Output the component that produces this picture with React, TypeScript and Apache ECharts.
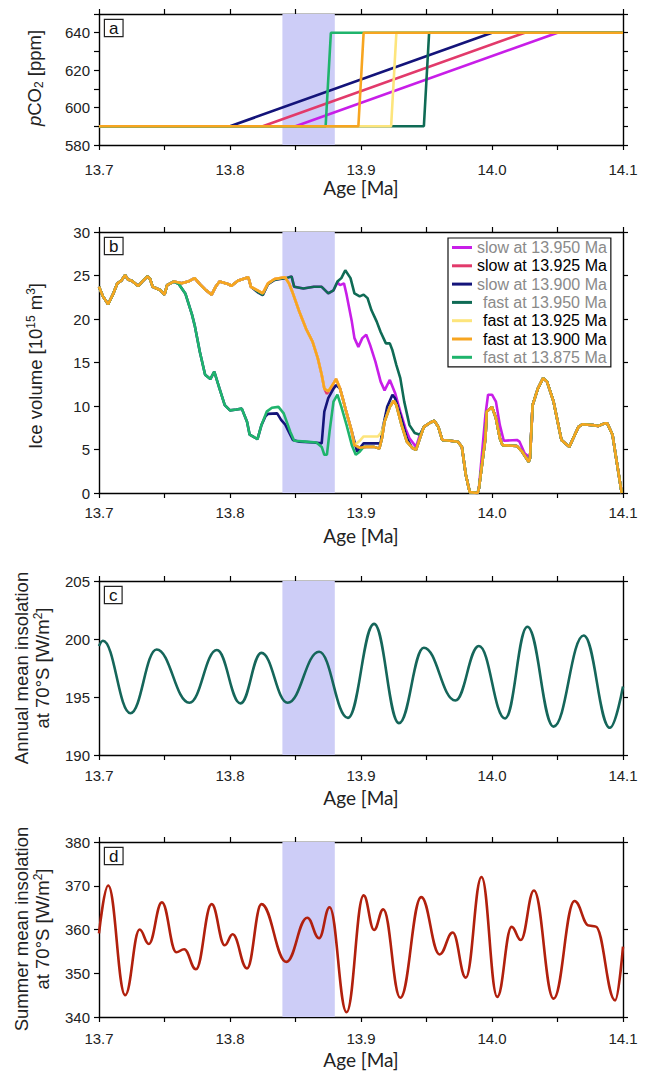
import React, { useEffect, useRef } from "react";
import * as echarts from "echarts";

// ---------- data ----------
const X_MIN = 13.7;
const X_MAX = 14.1;
const SHADE = [13.84, 13.88];

const SERIES_NAMES = [
  "slow at 13.950 Ma",
  "slow at 13.925 Ma",
  "slow at 13.900 Ma",
  "fast at 13.950 Ma",
  "fast at 13.925 Ma",
  "fast at 13.900 Ma",
  "fast at 13.875 Ma",
];
const SERIES_COLORS = ["#c81ee8", "#e23a6b", "#14147a", "#0f6b55", "#fde57c", "#f7a520", "#1fb46c"];
const LEGEND_TEXT_COLORS = ["#8a8a8a", "#000", "#8a8a8a", "#8a8a8a", "#000", "#000", "#8a8a8a"];

// panel a: pCO2 scenarios
const co2Slow950 = [[13.7, 590], [13.85, 590], [14.05, 640], [14.1, 640]];
const co2Slow925 = [[13.7, 590], [13.825, 590], [14.025, 640], [14.1, 640]];
const co2Slow900 = [[13.7, 590], [13.8, 590], [14.0, 640], [14.1, 640]];
const co2Fast950 = [[13.7, 590], [13.948, 590], [13.952, 640], [14.1, 640]];
const co2Fast925 = [[13.7, 590], [13.923, 590], [13.927, 640], [14.1, 640]];
const co2Fast900 = [[13.7, 590], [13.898, 590], [13.902, 640], [14.1, 640]];
const co2Fast875 = [[13.7, 590], [13.873, 590], [13.877, 640], [14.1, 640]];

// panel b: ice volume, base curve (fast at 13.900 Ma)
const iceFast900 = [
  [13.7, 23.7], [13.703, 22.6], [13.707, 21.7], [13.711, 22.95], [13.714, 24.1], [13.717, 24.4],
  [13.72, 25.05], [13.722, 24.55], [13.725, 24.4], [13.73, 23.8], [13.733, 24.3], [13.737, 24.9],
  [13.739, 24.6], [13.741, 23.7], [13.747, 23.3], [13.75, 22.8], [13.752, 23.9], [13.757, 24.3],
  [13.763, 24.1], [13.768, 24.3], [13.773, 24.7], [13.777, 24.0], [13.781, 23.4], [13.786, 22.8],
  [13.789, 23.7], [13.792, 24.3], [13.799, 24.0], [13.801, 23.8], [13.806, 24.4], [13.814, 24.8],
  [13.816, 23.7], [13.821, 23.3], [13.825, 22.95], [13.829, 24.1], [13.834, 24.6], [13.842, 24.8],
  [13.845, 24.1], [13.848, 22.95], [13.853, 20.8], [13.858, 18.9], [13.863, 17.4], [13.867, 15.5],
  [13.87, 13.6], [13.872, 12.0], [13.875, 11.7], [13.879, 12.6], [13.881, 13.1], [13.884, 12.0],
  [13.886, 10.9], [13.889, 9.2], [13.893, 7.05], [13.895, 5.5], [13.899, 5.2], [13.904, 5.3],
  [13.91, 5.3], [13.914, 5.1], [13.916, 6.3], [13.918, 8.2], [13.922, 9.9], [13.925, 10.6],
  [13.927, 10.1], [13.931, 7.8], [13.935, 5.9], [13.939, 5.2], [13.942, 4.95], [13.945, 6.3],
  [13.948, 7.6], [13.953, 8.1], [13.956, 8.3], [13.959, 7.6], [13.962, 6.1], [13.968, 6.0],
  [13.974, 5.9], [13.977, 5.3], [13.98, 2.1], [13.983, 0.1], [13.989, 0], [13.99, 0.5],
  [13.995, 6.3], [13.996, 9.35], [14.0, 9.9], [14.003, 8.6], [14.006, 6.3], [14.008, 5.5],
  [14.019, 5.4], [14.023, 4.75], [14.028, 3.6], [14.029, 4.0], [14.031, 10.1], [14.035, 12.0],
  [14.039, 13.2], [14.042, 12.8], [14.047, 10.5], [14.053, 6.1], [14.059, 5.3], [14.062, 6.3],
  [14.066, 7.6], [14.069, 7.9], [14.077, 7.8], [14.081, 7.7], [14.086, 8.0], [14.088, 8.0],
  [14.092, 6.7], [14.094, 4.75], [14.099, 0],
];
// segments where other scenarios depart from the base curve
const fast875Seg = [
  [13.761, 24.0], [13.766, 22.9], [13.771, 20.5], [13.773, 19.3], [13.777, 16.2], [13.781, 13.6],
  [13.785, 13.1], [13.788, 13.95], [13.792, 12.0], [13.796, 10.1], [13.8, 9.5], [13.805, 9.6],
  [13.809, 9.7], [13.813, 8.2], [13.815, 6.7], [13.821, 6.2], [13.824, 7.8], [13.828, 9.35],
  [13.832, 9.8], [13.837, 9.9], [13.841, 9.15], [13.846, 7.05], [13.849, 6.0], [13.858, 5.9],
  [13.866, 5.8], [13.87, 5.3], [13.872, 4.4], [13.874, 4.4], [13.876, 7.05], [13.879, 10.5],
  [13.882, 11.3], [13.885, 9.9], [13.889, 7.8], [13.893, 5.5], [13.896, 4.4], [13.899, 4.75],
  [13.902, 5.3],
];
const slow900Seg = [
  [13.827, 8.8], [13.829, 9.1], [13.836, 9.15], [13.839, 8.4], [13.842, 7.9], [13.845, 7.0],
  [13.848, 6.1], [13.853, 5.9], [13.864, 5.8], [13.87, 5.7], [13.872, 9.35], [13.875, 10.9],
  [13.879, 12.0], [13.881, 12.4], [13.884, 12.0], [13.886, 10.9], [13.889, 9.2], [13.893, 7.05],
  [13.897, 4.75], [13.902, 5.7], [13.915, 5.7], [13.916, 7.05], [13.92, 9.9], [13.924, 11.3],
  [13.926, 10.9], [13.93, 9.0], [13.935, 6.3], [13.939, 5.2],
];
const fast950Seg = [
  [13.821, 23.1], [13.825, 22.75], [13.829, 24.0], [13.834, 24.5], [13.838, 24.6], [13.843, 24.7],
  [13.847, 24.9], [13.849, 23.7], [13.856, 23.5], [13.864, 23.7], [13.87, 23.7], [13.875, 22.95],
  [13.879, 23.3], [13.882, 24.3], [13.885, 24.7], [13.888, 25.6], [13.892, 24.7], [13.895, 22.95],
  [13.899, 22.6], [13.902, 22.8], [13.905, 22.4], [13.908, 21.0], [13.912, 19.7], [13.915, 18.5],
  [13.919, 17.2], [13.922, 17.2], [13.924, 16.4], [13.927, 14.7], [13.93, 13.2], [13.933, 10.5],
  [13.937, 7.8], [13.941, 6.9], [13.945, 6.7],
];
const slow950Seg1 = [
  [13.882, 24.2], [13.884, 23.9], [13.887, 24.1], [13.889, 22.8], [13.893, 19.7], [13.895, 17.8],
  [13.898, 16.8], [13.901, 17.8], [13.904, 18.2], [13.907, 17.0], [13.911, 15.1], [13.915, 12.8],
  [13.918, 11.8], [13.922, 13.0], [13.926, 11.5], [13.93, 9.35], [13.934, 7.4], [13.937, 6.3],
  [13.942, 5.3],
];
const slow950Seg2 = [
  [13.995, 9.0], [13.997, 11.3], [14.0, 11.3], [14.003, 10.5], [14.006, 7.8], [14.009, 6.0],
  [14.019, 6.1], [14.021, 5.9], [14.025, 4.55], [14.028, 4.2],
];
const fast925Seg = [[13.899, 6.0], [13.902, 6.5], [13.913, 6.5], [13.916, 7.05]];
const slow925Seg = [[13.872, 12.0], [13.874, 11.4], [13.877, 12.0]];

// panel c: annual mean insolation at 70°S (peaks and troughs)
const annualInsolation = [
  [13.7, 199.4], [13.703, 199.85], [13.724, 193.6], [13.744, 199.1], [13.769, 194.5], [13.79, 199.05],
  [13.808, 194.45], [13.824, 198.8], [13.844, 194.5], [13.868, 198.9], [13.89, 193.2], [13.91, 201.3],
  [13.929, 192.75], [13.948, 199.25], [13.972, 194.7], [13.99, 199.4], [14.01, 193.15], [14.027, 201.05],
  [14.047, 192.45], [14.07, 200.3], [14.09, 192.35], [14.1, 195.9],
];
// panel d: summer mean insolation at 70°S
const summerInsolation = [
  [13.7, 359.1], [13.707, 370.05], [13.72, 345.0], [13.731, 360.0], [13.738, 356.7], [13.748, 366.2],
  [13.759, 354.8], [13.765, 355.5], [13.774, 350.9], [13.786, 365.8], [13.796, 356.4], [13.802, 358.9],
  [13.813, 351.1], [13.824, 365.8], [13.843, 352.6], [13.859, 362.7], [13.868, 358.0], [13.876, 365.1],
  [13.889, 341.1], [13.902, 367.8], [13.91, 359.9], [13.917, 364.6], [13.93, 344.4], [13.946, 367.4],
  [13.96, 354.3], [13.97, 359.3], [13.98, 349.0], [13.992, 372.0], [14.004, 344.6], [14.015, 360.6],
  [14.022, 357.6], [14.032, 368.9], [14.047, 344.2], [14.063, 366.5], [14.074, 360.9], [14.079, 360.7],
  [14.094, 343.8], [14.1, 356.1],
];

// ---------- helpers ----------
function merge(base: number[][], seg: number[][]) {
  const a = seg[0][0];
  const b = seg[seg.length - 1][0];
  return base.filter((p) => p[0] < a || p[0] > b).concat(seg).sort((p, q) => p[0] - q[0]);
}

const iceFast875 = merge(iceFast900, fast875Seg);
const iceSlow900 = merge(iceFast875, slow900Seg);
const iceFast950 = merge(iceFast900, fast950Seg);
const iceSlow950 = merge(merge(iceFast950, slow950Seg1), slow950Seg2);
const iceFast925 = merge(iceFast900, fast925Seg);
const iceSlow925 = merge(iceFast900, slow925Seg);

const FONT = "Liberation Sans, Arial, sans-serif";
const TITLE_FONT = "Lato, Liberation Sans, sans-serif";

const GRIDS = [
  { top: 14, height: 131, labelMargin: 17 },
  { top: 232, height: 261, labelMargin: 12 },
  { top: 581, height: 174, labelMargin: 13 },
  { top: 842, height: 175, labelMargin: 14 },
];
const LEFT = 99;
const RIGHT_PX = 623;

function xAxesFor(gridIndex: number) {
  const common: any = {
    type: "value",
    gridIndex,
    min: X_MIN,
    max: X_MAX,
    interval: 0.05,
    splitLine: { show: false },
    axisLine: { show: true, onZero: false, lineStyle: { color: "#000", width: 1.4 } },
    axisTick: { show: true, inside: false, length: 5, lineStyle: { color: "#000", width: 1.2 } },
  };
  return [
    {
      ...common,
      position: "bottom",
      axisLabel: {
        show: true,
        margin: GRIDS[gridIndex].labelMargin,
        fontFamily: FONT,
        fontSize: 15,
        color: "#222",
        showMinLabel: true,
        showMaxLabel: true,
        formatter: (v: number) => (Math.round(v * 20) % 2 === 0 ? v.toFixed(1) : ""),
      },
      name: "Age [Ma]",
      nameLocation: "middle",
      nameGap: 33,
      nameTextStyle: { fontFamily: TITLE_FONT, fontSize: 19, color: "#222" },
    },
    { ...common, position: "top", axisLabel: { show: false } },
  ];
}

function yAxesFor(gridIndex: number, min: number, max: number, interval: number, labelStep: number) {
  const common: any = {
    type: "value",
    gridIndex,
    min,
    max,
    interval,
    splitLine: { show: false },
    axisLine: { show: true, onZero: false, lineStyle: { color: "#000", width: 1.4 } },
    axisTick: { show: true, inside: false, length: 5, lineStyle: { color: "#000", width: 1.2 } },
  };
  return [
    {
      ...common,
      position: "left",
      axisLabel: {
        show: true,
        margin: 9,
        fontFamily: FONT,
        fontSize: 15,
        color: "#222",
        showMaxLabel: true,
        showMinLabel: true,
        formatter: (v: number) => {
          const k = Math.round((v - min) / labelStep);
          return Math.abs(min + k * labelStep - v) < 1e-6 ? String(Math.round(v)) : "";
        },
      },
    },
    { ...common, position: "right", axisLabel: { show: false } },
  ];
}

function lineSeries(name: string, color: string, data: number[][], axisIdx: number, smooth?: boolean) {
  const s: any = {
    type: "line",
    name,
    data,
    xAxisIndex: axisIdx,
    yAxisIndex: axisIdx,
    symbol: "none",
    showSymbol: false,
    z: 3,
    lineStyle: { color, width: 2.6 },
    itemStyle: { color },
    silent: true,
  };
  if (smooth) {
    s.smooth = 0.42;
    s.smoothMonotone = "x";
  }
  return s;
}

function shadeSeries(axisIdx: number, yMin: number) {
  return {
    type: "line",
    name: "shade" + axisIdx,
    data: [[SHADE[0], yMin]],
    xAxisIndex: axisIdx,
    yAxisIndex: axisIdx,
    symbol: "none",
    showSymbol: false,
    lineStyle: { opacity: 0 },
    z: 1,
    silent: true,
    markArea: {
      silent: true,
      itemStyle: { color: "#cdcdf7", opacity: 1 },
      data: [[{ xAxis: SHADE[0] }, { xAxis: SHADE[1] }]],
    },
  };
}

const PANEL_LABELS = ["a", "b", "c", "d"];
const Y_TITLES = [
  { text: "{it|p}CO{sub|2} [ppm]", x: 34, y: 78 },
  { text: "Ice volume [10{sup|15} m{sup|3}]", x: 35, y: 366 },
  { text: "Annual mean insolation\nat 70°S [W/m{sup|2}]", x: 32, y: 668 },
  { text: "Summer mean insolation\nat 70°S [W/m{sup|2}]", x: 32, y: 929 },
];

export default function App() {
  const ref = useRef<HTMLDivElement>(null);

  useEffect(() => {
    if (!ref.current) return;
    const chart = echarts.init(ref.current, undefined, { renderer: "svg" });

    const grid = GRIDS.map((g) => ({
      left: LEFT,
      top: g.top,
      width: RIGHT_PX - LEFT,
      height: g.height,
      containLabel: false,
    }));

    const xAxis = [0, 1, 2, 3].flatMap((i) => xAxesFor(i));
    const yAxis = [
      ...yAxesFor(0, 580, 650, 10, 20),
      ...yAxesFor(1, 0, 30, 5, 5),
      ...yAxesFor(2, 190, 205, 5, 5),
      ...yAxesFor(3, 340, 380, 10, 10),
    ];

    const co2 = [co2Slow950, co2Slow925, co2Slow900, co2Fast950, co2Fast925, co2Fast875, co2Fast900];
    const ice = [iceSlow950, iceSlow925, iceSlow900, iceFast950, iceFast925, iceFast875, iceFast900];
    const order = [0, 1, 2, 3, 4, 6, 5]; // draw order: orange last

    const series: any[] = [];
    series.push(shadeSeries(0, 580));
    series.push(shadeSeries(2, 0));
    series.push(shadeSeries(4, 190));
    series.push(shadeSeries(6, 340));
    order.forEach((idx, k) => {
      series.push(lineSeries(SERIES_NAMES[idx], SERIES_COLORS[idx], co2[k], 0));
    });
    order.forEach((idx, k) => {
      series.push(lineSeries(SERIES_NAMES[idx], SERIES_COLORS[idx], ice[k], 2));
    });
    series.push(lineSeries("annual", "#15665a", annualInsolation, 4, true));
    series.push(lineSeries("summer", "#b1200d", summerInsolation, 6, true));

    const rich = {
      sup: { fontFamily: FONT, fontSize: 12, lineHeight: 12, verticalAlign: "top", fill: "#222" },
      sub: { fontFamily: FONT, fontSize: 12, lineHeight: 12, verticalAlign: "bottom", fill: "#222" },
      it: { fontFamily: FONT, fontSize: 18.5, fontStyle: "italic", fill: "#222", lineHeight: 21 },
    };

    const graphic: any[] = GRIDS.map((g, i) => ({
      type: "text",
      x: 105,
      y: g.top + 6,
      z: 10,
      style: {
        text: PANEL_LABELS[i],
        fontFamily: FONT,
        fontSize: 17,
        lineHeight: 16,
        fill: "#111",
        borderColor: "#222",
        borderWidth: 1.2,
        padding: [0, 4, 0, 4],
        backgroundColor: "#fff",
      },
    }));
    Y_TITLES.forEach((t) => {
      graphic.push({
        type: "text",
        x: t.x,
        y: t.y,
        rotation: Math.PI / 2,
        z: 10,
        style: {
          text: t.text,
          fontFamily: FONT,
          fontSize: 18.5,
          lineHeight: 21,
          fill: "#222",
          align: "center",
          verticalAlign: "middle",
          rich,
        },
      });
    });

    chart.setOption({
      animation: false,
      backgroundColor: "#fff",
      textStyle: { fontFamily: FONT },
      grid,
      xAxis,
      yAxis,
      series,
      graphic,
      legend: {
        show: true,
        orient: "vertical",
        left: 448,
        top: 238,
        borderColor: "#111",
        borderWidth: 1.2,
        backgroundColor: "#fff",
        padding: [1, 4, 1, 4],
        itemGap: 1.3,
        itemWidth: 20,
        itemHeight: 3,
        icon: "rect",
        selectedMode: false,
        textStyle: {
          fontFamily: FONT,
          fontSize: 16,
          lineHeight: 17,
          rich: { f: { fontFamily: FONT, fontSize: 16, lineHeight: 17, padding: [0, 0, 0, 6] } },
        },
        formatter: (name: string) => (name.startsWith("fast") ? `{f|${name}}` : name),
        data: SERIES_NAMES.map((n, i) => ({
          name: n,
          itemStyle: { color: SERIES_COLORS[i] },
          textStyle: { color: LEGEND_TEXT_COLORS[i] },
        })),
      },
    });

    return () => {
      chart.dispose();
    };
  }, []);

  return (
    <div
      ref={ref}
      style={{ position: "absolute", left: 0, top: 0, width: 651, height: 1074, background: "#fff" }}
    />
  );
}
